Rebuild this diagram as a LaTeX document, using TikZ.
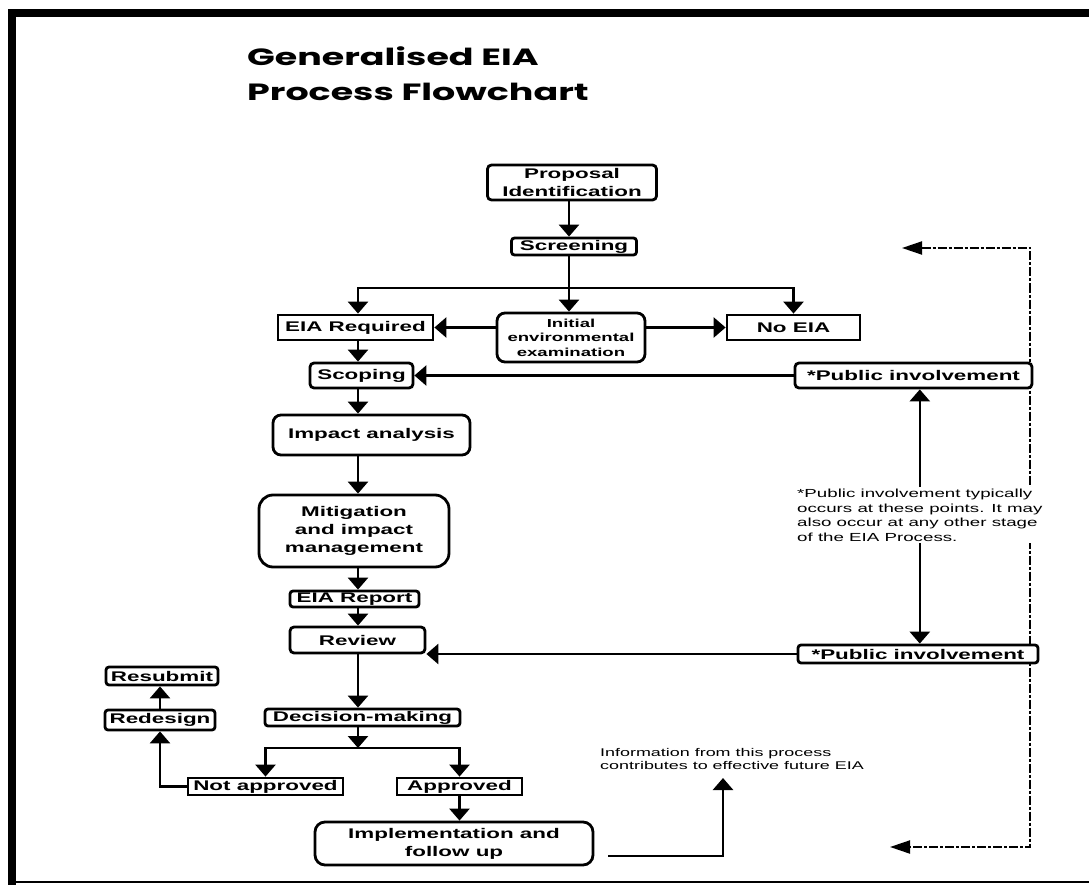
\documentclass[tikz,border=0pt]{standalone}
\usepackage{fontspec}
\setmainfont{Liberation Sans}
\newfontfamily\flowfont[FakeStretch=1.6]{Liberation Sans}
\newfontfamily\headfont[FakeStretch=1.55]{Poppins}
\usetikzlibrary{arrows.meta}

\begin{document}
\begin{tikzpicture}[x=1pt, y=-1pt,
    stage/.style   = {draw, line width=2.8pt, fill=white, rounded corners=4pt, align=center,
                      inner sep=0pt, font=\flowfont\bfseries\fontsize{14}{18}\selectfont},
    boxed/.style   = {stage, sharp corners},
    small/.style   = {font=\flowfont\bfseries\fontsize{11.6}{14.5}\selectfont},
    remark/.style  = {align=left, inner sep=2pt, fill=white,
                      font=\flowfont\fontsize{11.7}{14.5}\selectfont},
    heading/.style = {align=left, inner sep=0pt, font=\headfont\bfseries\fontsize{23.5}{35}\selectfont},
    flow/.style    = {-{Triangle[length=12pt, width=20pt]}, line width=2.6pt},
    loop/.style    = {{Triangle[length=20pt, width=13pt]}-{Triangle[length=20pt, width=13pt]},
                      line width=2pt, dash pattern=on 9pt off 2pt on 3pt off 2pt},
  ]
    \useasboundingbox (0,0) rectangle (1089,885);

    % --- frame ---
    \draw[line width=8pt] (12,885) -- (12,13) -- (1089,13);
    \draw[line width=2pt] (12,882) -- (1089,882);

    % --- title ---
    \node[heading, anchor=north west] (title) at (247,46) {Generalised EIA\\Process Flowchart};

    % --- helper coordinates ---
    \coordinate (axis)  at (569,0);
    \coordinate (trunk) at (358,0);
    \coordinate (split) at (569,288);
    \coordinate (verdict) at (358,748);
    \coordinate (fromimpl) at (608,856);
    \coordinate (toinfo) at (723,778);
    \coordinate (fbtop) at (902,248);
    \coordinate (fbside) at (1030,500);
    \coordinate (fbbot) at (890,847);

    % --- feedback loop (behind the boxes) ---
    \draw[loop] (fbtop) -| (fbside) |- (fbbot);

    % --- screening ---
    \node[stage, minimum width=169pt, minimum height=35pt] (prop) at (572,182.5) {Proposal\\Identification};
    \node[stage, rounded corners=3pt, minimum width=125pt, minimum height=17pt] (screen) at (574,246.5) {Screening};
    \node[boxed, minimum width=155pt, minimum height=25pt] (eiareq) at (355.5,327.5) {EIA Required};
    \node[stage, small, rounded corners=8pt, minimum width=148pt, minimum height=49pt] (iee) at (571,337.5) {Initial\\environmental\\examination};
    \node[boxed, minimum width=133pt, minimum height=25pt] (noeia) at (793.5,327.5) {No EIA};

    % --- main sequence ---
    \node[stage, minimum width=103pt, minimum height=25pt] (scoping) at (361.5,375.5) {Scoping};
    \node[stage, rounded corners=8pt, minimum width=197pt, minimum height=40pt] (impact) at (371.5,435) {Impact analysis};
    \node[stage, rounded corners=14pt, minimum width=190pt, minimum height=72pt] (mitig) at (354,531) {Mitigation\\and impact\\management};
    \node[stage, rounded corners=3pt, minimum width=129pt, minimum height=16pt] (report) at (354.5,599) {EIA Report};
    \node[stage, minimum width=135pt, minimum height=26pt] (review) at (357.5,640) {Review};
    \node[stage, rounded corners=3pt, minimum width=195pt, minimum height=17pt] (decision) at (362.5,717.5) {Decision-making};

    % --- decision outcomes ---
    \node[boxed, minimum width=155pt, minimum height=17pt] (notappr) at (265.5,786.5) {Not approved};
    \node[boxed, minimum width=125pt, minimum height=17pt] (appr) at (459.5,786.5) {Approved};
    \node[stage, rounded corners=3pt, minimum width=110pt, minimum height=20pt] (redesign) at (160,720) {Redesign};
    \node[stage, rounded corners=3pt, minimum width=112pt, minimum height=18pt] (resubmit) at (162,676) {Resubmit};
    \node[stage, rounded corners=10pt, minimum width=278pt, minimum height=43pt] (impl) at (454,843.5) {Implementation and\\follow up};

    % --- public involvement ---
    \node[stage, minimum width=237pt, minimum height=25pt] (pubone) at (913.5,375.5) {*Public involvement};
    \node[stage, rounded corners=3pt, minimum width=240pt, minimum height=18pt] (pubtwo) at (918,654) {*Public involvement};
    \node[remark, anchor=north west] (note) at (795,487) {*Public involvement typically\\occurs at these points. It may\\also occur at any other stage\\of the EIA Process.};
    \node[remark, anchor=north west, font=\flowfont\fontsize{11.2}{13}\selectfont] (info) at (598,746) {Information from this process\\contributes to effective future EIA};

    % --- screening outcomes ---
    \draw[flow] (axis |- prop.south) -- (axis |- screen.north);
    \draw[flow] (axis |- screen.south) -- (axis |- iee.north);
    \draw[flow] (split) -| (trunk |- eiareq.north);
    \draw[flow] (split) -| (noeia.north);
    \draw[flow] (iee.west |- eiareq) -- (eiareq.east);
    \draw[flow] (iee.east |- noeia) -- (noeia.west);

    % --- down the main sequence ---
    \draw[flow] (trunk |- eiareq.south) -- (trunk |- scoping.north);
    \draw[flow] (trunk |- scoping.south) -- (trunk |- impact.north);
    \draw[flow] (trunk |- impact.south) -- (trunk |- mitig.north);
    \draw[flow] (trunk |- mitig.south) -- (trunk |- report.north);
    \draw[flow] (trunk |- report.south) -- (trunk |- review.north);
    \draw[flow] (trunk |- review.south) -- (trunk |- decision.north);
    \draw[flow] (trunk |- decision.south) -- (verdict);
    \draw[flow] (verdict) -| (notappr.north);
    \draw[flow] (verdict) -| (appr.north);

    % --- after the decision ---
    \draw[flow] (notappr.west) -| (redesign.south);
    \draw[flow] (redesign.north) -- (redesign.north |- resubmit.south);
    \draw[flow] (appr.south) -- (appr.south |- impl.north);
    \draw[flow] (fromimpl) -| (toinfo);

    % --- where the public comes in ---
    \draw[flow] (pubone.west) -- (scoping.east);
    \draw[flow] (pubtwo.west) -- (pubtwo.west -| review.east);
    \draw[flow] (note.north) -- (note.north |- pubone.south);
    \draw[flow] (note.south) -- (note.south |- pubtwo.north);
  \end{tikzpicture}
\end{document}
